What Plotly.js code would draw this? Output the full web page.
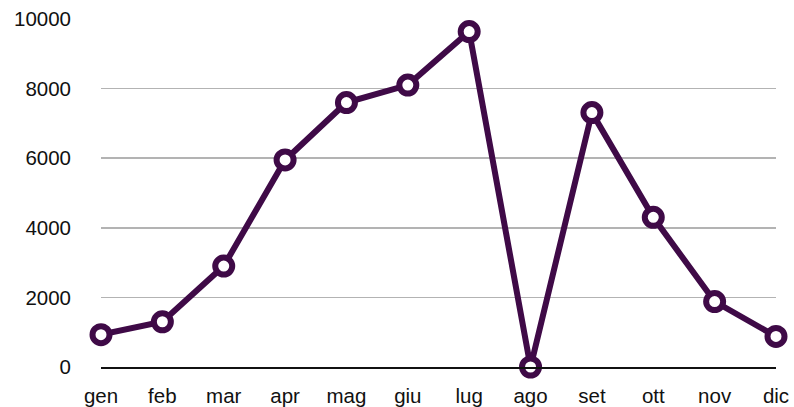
<!DOCTYPE html>
<html>
<head>
<meta charset="utf-8">
<script src="https://cdn.plot.ly/plotly-3.0.1.min.js"></script>
<style>
  html, body { margin: 0; padding: 0; background: #fff; }
  #graph { width: 794px; height: 407px; }
</style>
</head>
<body>
<div id="graph"></div>
<script>
// mesi e valori
const mesi = ['gen', 'feb', 'mar', 'apr', 'mag', 'giu', 'lug', 'ago', 'set', 'ott', 'nov', 'dic']
const valori = [930, 1300, 2900, 5950, 7600, 8100, 9640, 0, 7310, 4300, 1880, 880]
const tickY = [0, 2000, 4000, 6000, 8000, 10000]

const colore = '#3f0a47'

const graphData = [
    {
        x: mesi,
        y: valori,
        mode: 'lines+markers',
        type: 'scatter',
        cliponaxis: false,
        line: { color: colore, width: 6 },
        marker: {
            size: 17,
            color: '#ffffff',
            line: { color: colore, width: 6 }
        },
        hoverinfo: 'x+y'
    }
]

const layout = {
    width: 794,
    height: 407,
    margin: { l: 101, r: 18, t: 19, b: 40 },
    paper_bgcolor: '#ffffff',
    plot_bgcolor: '#ffffff',
    showlegend: false,
    font: { family: 'Liberation Sans, Arial, sans-serif', size: 20.5, color: '#111111' },
    xaxis: {
        type: 'category',
        range: [0, 11],
        showgrid: false,
        zeroline: false,
        showline: true,
        linecolor: '#111111',
        linewidth: 2,
        ticks: '',
        ticklabelstandoff: 9,
        tickfont: { size: 20.5, color: '#111111' }
    },
    yaxis: {
        range: [0, 10000],
        tickvals: tickY,
        ticktext: tickY.map(String),
        showgrid: true,
        gridcolor: '#b3b3b3',
        gridwidth: 1.5,
        zeroline: false,
        showline: false,
        ticks: '',
        ticklabelstandoff: 29,
        tickfont: { size: 20.5, color: '#111111' }
    }
}

Plotly.newPlot('graph', graphData, layout, { displayModeBar: false, staticPlot: true })
</script>
</body>
</html>
